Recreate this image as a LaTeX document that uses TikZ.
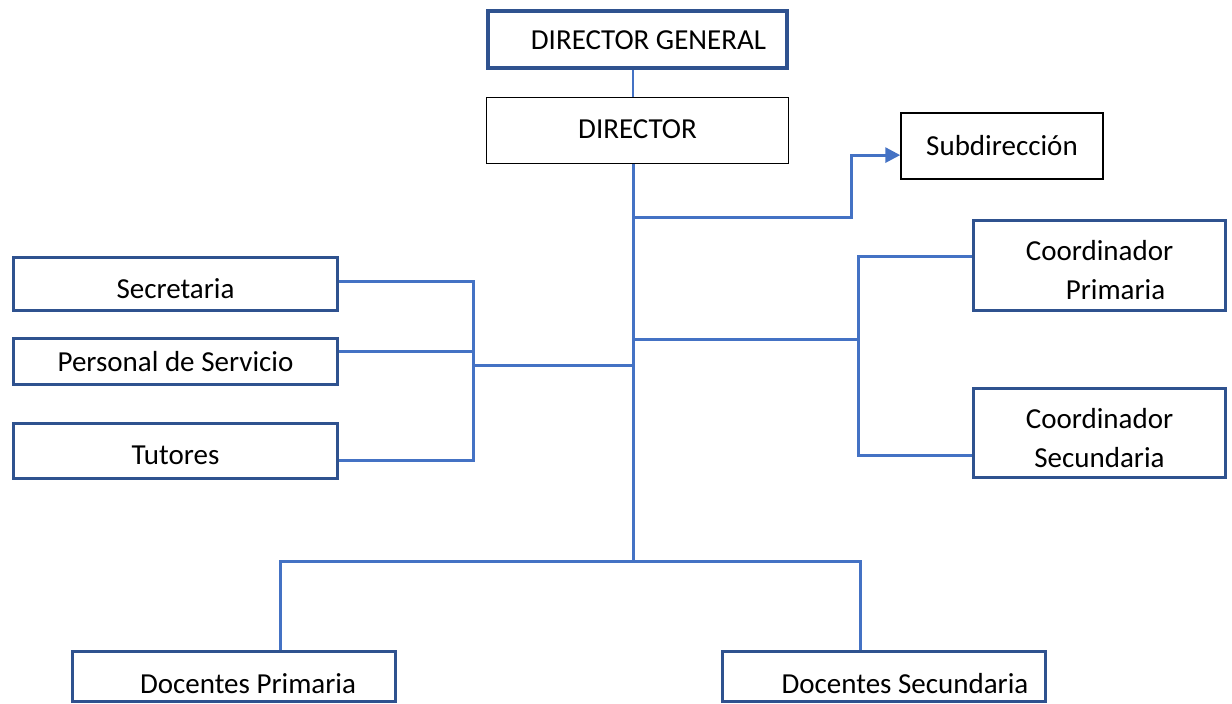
\documentclass[tikz,border=0pt]{standalone}
\usepackage{fontspec}
\setmainfont{Carlito}
\usetikzlibrary{calc}
\usetikzlibrary{arrows.meta}
\usetikzlibrary{positioning}
\definecolor{lnblue}{HTML}{4472C4}
\definecolor{bxblue}{HTML}{2F528F}
\tikzstyle{bx}=[rectangle,draw=bxblue,line width=1.5pt,inner sep=0,text=black,
                font=\fontsize{14.5}{19.5}\selectfont]
\tikzstyle{bx1}=[bx,text height=10pt,text depth=0pt]
\tikzstyle{bxk}=[bx1,draw=black,line width=0.75pt]
\tikzstyle{ln}=[draw=lnblue,line width=1.5pt]
\tikzstyle{hit}=[ln,-{Triangle[length=7.5pt,width=7.5pt]}]

\begin{document}
\begin{tikzpicture}[x=0.5pt,y=-0.5pt]
\useasboundingbox (0,0) rectangle (1232,704);
% boxes
\node[bx1,line width=2pt,minimum width=149.5pt,minimum height=28.5pt] (dg) at (637.5,39.5) {\hspace*{11pt}DIRECTOR GENERAL};
\node[bxk,minimum width=151pt,minimum height=33pt] (dir) at (637.5,130.5) {\raisebox{1pt}{DIRECTOR}};
\node[bxk,minimum width=101pt,minimum height=33pt] (sub) at (1002,146) {Subdirección};
\node[bx1,minimum width=162pt,minimum height=26.5pt] (sec) at (175.5,284) {\raisebox{-2.5pt}{Secretaria}};
\node[bx1,minimum width=162pt,minimum height=23pt] (per) at (175.5,362) {Personal de Servicio};
\node[bx1,minimum width=162pt,minimum height=27.5pt] (tut) at (175.5,451) {\raisebox{-2pt}{Tutores}};
\node[bx,align=center,minimum width=126pt,minimum height=45pt] (cpri) at (1099.5,265.5) {\rule{0pt}{15pt}Coordinador\\\hspace*{16pt}Primaria};
\node[bx,align=center,minimum width=126pt,minimum height=44.5pt] (csec) at (1099.5,433) {\rule{0pt}{15pt}Coordinador\\Secundaria};
\node[bx1,minimum width=161.5pt,minimum height=25pt] (dpri) at (234,676.5) {\raisebox{-3.75pt}{\hspace*{14pt}Docentes Primaria}};
\node[bx1,minimum width=161.5pt,minimum height=25pt] (dsec) at (884,676.5) {\raisebox{-3.75pt}{\hspace*{21pt}Docentes Secundaria}};
% junctions
\coordinate (jsub) at (633,218);
\coordinate (jr) at (633,340);
\coordinate (jl) at (633,366);
\coordinate (jb) at (633,562);
\coordinate (bl) at (473,366);
\coordinate (br) at (858,340);
\coordinate (b1) at (280,562);
\coordinate (b2) at (860,562);
\coordinate (sub-w) at ($(sub.west)!0.27!(sub.south west)$);
\coordinate (sec-e) at ($(sec.east)!0.1!(sec.north east)$);
\coordinate (per-e) at ($(per.east)!0.43!(per.north east)$);
\coordinate (tut-e) at ($(tut.east)!0.33!(tut.south east)$);
\coordinate (cpri-w) at ($(cpri.west)!0.2!(cpri.north west)$);
\coordinate (csec-w) at ($(csec.west)!0.5!(csec.south west)$);
% links
\draw[ln,line width=1pt] (dg.south -| jb) -- (dir.north -| jb);
\draw[ln] (dir.south -| jb) -- (jb);
\draw[hit] (jsub) -- ++(218,0) |- (sub-w);
\draw[ln] (jl) -- (bl);
\draw[ln] (sec-e) -- (sec-e -| bl) -- (tut-e -| bl) -- (tut-e);
\draw[ln] (per-e) -- (per-e -| bl);
\draw[ln] (jr) -- (br);
\draw[ln] (cpri-w) -- (cpri-w -| br) -- (csec-w -| br) -- (csec-w);
\draw[ln] (dpri.north -| b1) -- (b1) -- (b2) -- (dsec.north -| b2);
\end{tikzpicture}
\end{document}
